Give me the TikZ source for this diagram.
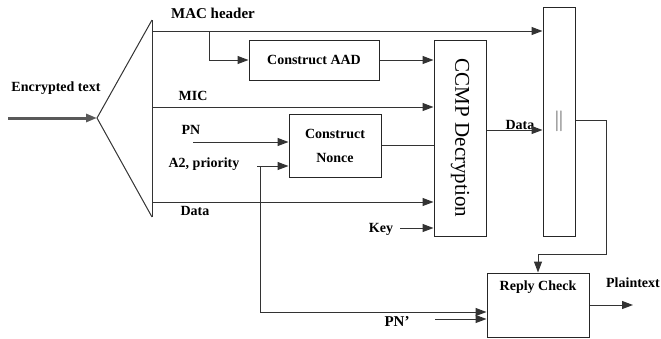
\documentclass[tikz,border=0pt]{standalone}
\usepackage{fontspec}
\setmainfont{Liberation Serif}
\usetikzlibrary{arrows.meta}

\tikzset{
  wire/.style={line width=1pt, draw=black!80},
  blk/.style={draw=black!85, line width=1pt, inner sep=0pt},
  lbl/.style={font=\fontsize{14}{16}\selectfont\bfseries, inner sep=0pt}
}

\begin{document}
\begin{tikzpicture}[x=1pt,y=-1pt,>={Triangle[length=11pt,width=8pt]}]
    \useasboundingbox (0,0) rectangle (661,338);
    % Splitter
    \coordinate (in) at (8,118);
    \coordinate (apex) at (97,118);
    \coordinate (top) at (152,20);
    \coordinate (bot) at (152,217);
    \draw[->, line width=3pt, draw=black!65] (in) -- (apex);
    \draw[wire] (top) -- (apex) -- (bot);
    \draw[wire] (top) -- (bot);
    \node[lbl] (enc) at (56,88) {Encrypted text};
    % Blocks
    \node[blk, lbl, minimum width=130, minimum height=40] (aad) at (314,60) {Construct AAD};
    \node[blk, minimum width=92, minimum height=63, align=center,
      font=\fontsize{14}{24}\selectfont\bfseries] (nonce) at (335,145.5) {Construct\\ Nonce};
    \node[blk, minimum width=52, minimum height=196,
      label={[rotate=-90, anchor=center, font=\fontsize{21}{24}\selectfont]center:CCMP Decryption}] (ccmp) at (460,138) {};
    \node[blk, minimum width=32, minimum height=229, text=black!70] (concat) at (559,121.5)
      {\fontsize{22}{24}\selectfont$\Vert$};
    \node[blk, minimum width=102, minimum height=64,
      label={[anchor=north, yshift=-8pt, lbl]north:Reply Check}] (reply) at (538,305) {};
    % Labels
    \node[lbl, font=\fontsize{15}{17}\selectfont\bfseries] (mach) at (213,13) {MAC header};
    \node[lbl] (micl) at (193,96) {MIC};
    \node[lbl] (pnl) at (191,130) {PN};
    \node[lbl] (a2l) at (204,164) {A2, priority};
    \node[lbl] (datal) at (195,211) {Data};
    \node[lbl] (keyl) at (381,229) {Key};
    \node[lbl] (dataout) at (520,125) {Data};
    \node[lbl] (plainl) at (633,283) {Plaintext};
    \node[lbl, font=\fontsize{15}{17}\selectfont\bfseries] (pnpl) at (397,322) {PN’};
    % Connector points
    \coordinate (mac) at (152,31);
    \coordinate (macbr) at (209,31);
    \coordinate (mic) at (152,107);
    \coordinate (pn) at (193,142);
    \coordinate (a2) at (257,166);
    \coordinate (a2br) at (260,166);
    \coordinate (datain) at (152,202);
    \coordinate (key) at (400,228);
    \coordinate (fb) at (606,254);
    \coordinate (pnp) at (435,319);
    \coordinate (plain) at (633,305);
    % Connectors
    \draw[wire,->] (mac) -- (mac -| concat.west);
    \draw[wire,->] (macbr) |- (aad.west);
    \draw[wire,->] (aad.east) -- (aad.east -| ccmp.west);
    \draw[wire,->] (mic) -- (mic -| ccmp.west);
    \draw[wire,->] (pn) -- (pn -| nonce.west);
    \draw[wire,->] (a2) -- (a2 -| nonce.west);
    \draw[draw=black!80, line width=0.5pt] (nonce.east) -- (nonce.east -| ccmp.west);
    \draw[wire,->] (datain) -- (datain -| ccmp.west);
    \draw[wire,->] (key) -- (key -| ccmp.west);
    \draw[wire,->] ([yshift=8]ccmp.east) -- ([yshift=8]ccmp.east -| concat.west);
    \draw[wire,->] ([yshift=1.5]concat.east) -| (fb) -| (reply.north);
    \draw[wire,->] (a2br) |- ([yshift=-7]reply.west);
    \draw[wire,->] (pnp) -- (pnp -| reply.west);
    \draw[wire,->] (reply.east) -- (plain);
  \end{tikzpicture}
\end{document}
